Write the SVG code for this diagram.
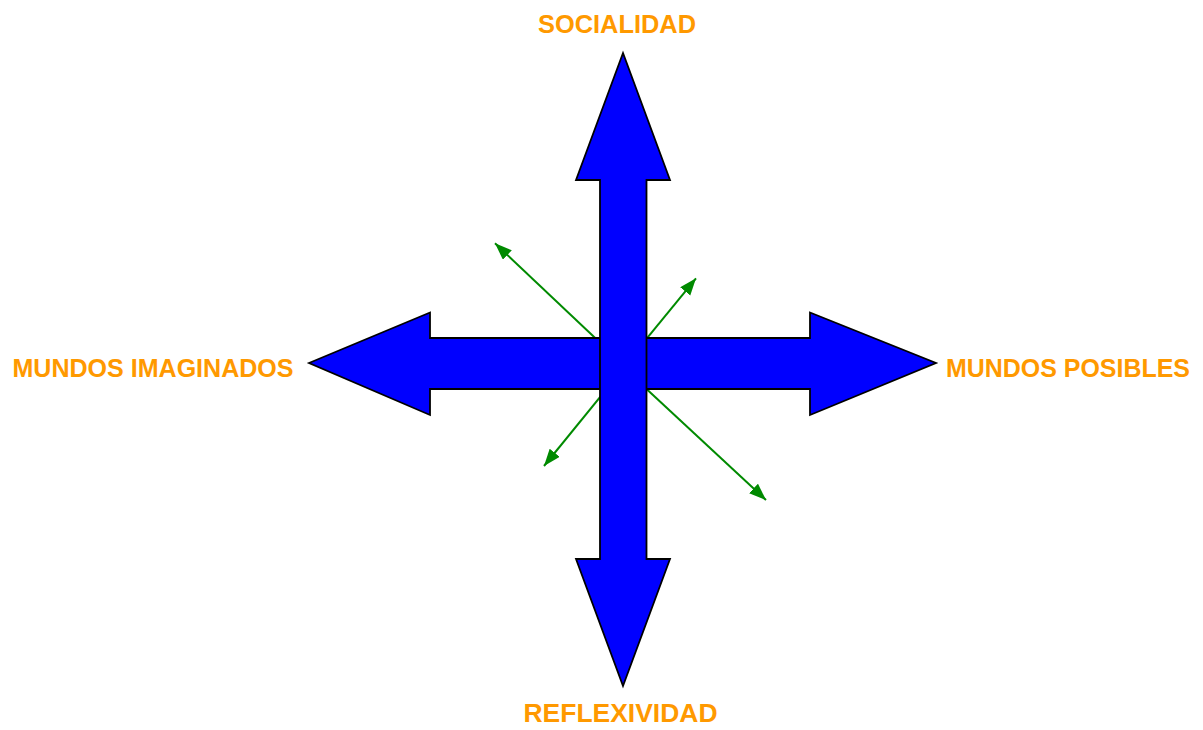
<svg xmlns="http://www.w3.org/2000/svg" width="1203" height="730" viewBox="0 0 1203 730">
<defs>
<style>
.lbl{font-family:"Liberation Sans",Arial,sans-serif;font-weight:bold;font-size:25px;fill:#FF9900;text-anchor:middle}
.big{fill:#0000FF;stroke:#000;stroke-width:1.8;stroke-linejoin:miter}
.g{stroke:#008A00;stroke-width:2;fill:none;marker-end:url(#gh)}
</style>
<marker id="gh" markerUnits="userSpaceOnUse" markerWidth="19" markerHeight="15" refX="17" refY="6.5" orient="auto">
<path d="M0,0 L17,6.5 L0,13 z" fill="#008A00"/>
</marker>
</defs>
<rect width="1203" height="730" fill="#fff"/>
<g id="connectors">
<line class="g" x1="610" y1="352" x2="495" y2="243.3"/>
<line class="g" x1="636" y1="351.6" x2="696" y2="278.3"/>
<line class="g" x1="610" y1="384.8" x2="544" y2="466"/>
<line class="g" x1="636" y1="379.3" x2="766" y2="500"/>
</g>
<g id="horizontal-arrow">
<polygon class="big" points="309,363 430,312.5 430,338 810,338 810,312.5 936,363 810,415 810,389 430,389 430,415"/>
</g>
<g id="vertical-arrow">
<polygon class="big" points="623,53 670,180 646.5,180 646.5,559 670,559 623,686 576,559 600,559 600,180 576,180"/>
</g>
<g id="socialidad"><text class="lbl" x="617" y="33" textLength="158" lengthAdjust="spacingAndGlyphs">SOCIALIDAD</text></g>
<g id="reflexividad"><text class="lbl" x="620.5" y="722" textLength="194" lengthAdjust="spacingAndGlyphs">REFLEXIVIDAD</text></g>
<g id="mundos-imaginados"><text class="lbl" x="153" y="377" textLength="281" lengthAdjust="spacingAndGlyphs">MUNDOS IMAGINADOS</text></g>
<g id="mundos-posibles"><text class="lbl" x="1068" y="377" textLength="244" lengthAdjust="spacingAndGlyphs">MUNDOS POSIBLES</text></g>
</svg>
